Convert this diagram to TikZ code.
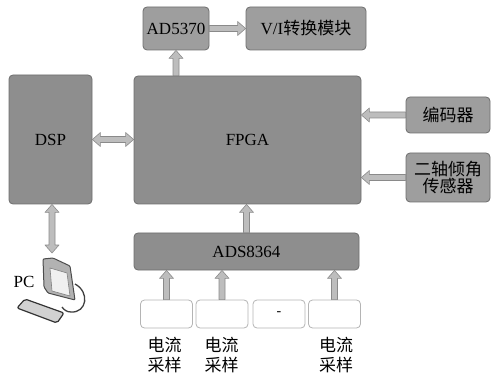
\documentclass[tikz,border=0pt]{standalone}
\usepackage{fontspec}
\setmainfont{Liberation Serif}
\newfontfamily\cjk{Noto Sans CJK SC}
\usetikzlibrary{calc}
\definecolor{boxfill}{HTML}{9E9E9E}
\definecolor{bigfill}{HTML}{8E8E8E}
\definecolor{boxline}{HTML}{6E6E6E}
\definecolor{arrfill}{HTML}{BDBDBD}
\definecolor{arrline}{HTML}{8A8A8A}
\definecolor{smline}{HTML}{B4B4B4}
\newcommand\fatarrow[3]{%
  \path let \p1=#2, \p2=#3, \n1={atan2(\y2-\y1,\x2-\x1)}, \n2={veclen(\x2-\x1,\y2-\y1)} in
    \pgfextra{\xdef\faang{\n1}\xdef\falen{\n2}\xdef\fax{\x1}\xdef\fay{\y1}};
  \begin{scope}[shift={(\fax,\fay)}, rotate=\faang]
    \ifnum#1=2
      \draw[fatarr] (0pt,0pt) -- (8pt,-7pt) -- (8pt,-3pt) -- (\falen-8pt,-3pt) -- (\falen-8pt,-7pt)
        -- (\falen,0pt) -- (\falen-8pt,7pt) -- (\falen-8pt,3pt) -- (8pt,3pt) -- (8pt,7pt) -- cycle;
    \else
      \draw[fatarr] (0pt,-3pt) -- (\falen-8pt,-3pt) -- (\falen-8pt,-7pt)
        -- (\falen,0pt) -- (\falen-8pt,7pt) -- (\falen-8pt,3pt) -- (0pt,3pt) -- cycle;
    \fi
  \end{scope}}
\begin{document}
\begin{tikzpicture}[x=1pt,y=-1pt,
  fatarr/.style={fill=arrfill, draw=arrline, line width=0.6pt, line join=round},
  blk/.style={draw=boxline, fill=boxfill, rounded corners=4pt, line width=0.8pt, inner sep=0pt,
    font=\fontsize{17}{19}\selectfont, align=center},
  bigblk/.style={blk, fill=bigfill},
  smp/.style={draw=smline, fill=white, rounded corners=4pt, line width=0.8pt, inner sep=0pt,
    minimum width=52pt, minimum height=28pt, font=\fontsize{14}{16}\selectfont},
  lbl/.style={inner sep=0pt, align=center, font=\fontsize{17}{20}\selectfont\cjk}]
\useasboundingbox (0,0) rectangle (492,379);
% blocks
\node[blk, minimum width=66pt, minimum height=43pt] (ad) at (176,28.5) {AD5370};
\node[blk, minimum width=120pt, minimum height=43pt] (vi) at (306,28.5) {V/I{\cjk 转换模块}};
\node[bigblk, minimum width=83pt, minimum height=129pt] (dsp) at (50.5,139.5) {DSP};
\node[bigblk, minimum width=227pt, minimum height=128pt] (fpga) at (247.5,140) {FPGA};
\node[blk, minimum width=84pt, minimum height=36pt] (enc) at (448,115) {\cjk 编码器};
\node[blk, minimum width=84pt, minimum height=49pt] (sen) at (448,177.5) {\cjk 二轴倾角\\[-2pt]\cjk 传感器};
\node[bigblk, minimum width=225pt, minimum height=37pt] (ads) at (246.5,251.5) {ADS8364};
% sample boxes
\node[smp] (s1) at (166.5,314) {};
\node[smp] (s2) at (222,314) {};
\node[smp] (s3) at (279,314) {-};
\node[smp] (s4) at (334.5,314) {};
\node[lbl] (l1) at (164.5,355) {电流\\采样};
\node[lbl] (l2) at (221.5,355) {电流\\采样};
\node[lbl] (l4) at (336,355) {电流\\采样};
% PC icon
\coordinate (pctop) at (52,253);
\node[inner sep=0pt, font=\fontsize{17}{19}\selectfont] (pc) at (24,282) {PC};
\begin{scope}[line join=round]
  % stand
  \draw[line width=1.3pt, draw=black!75] (75,284) .. controls (90,292) and (87,313) .. (71,312)
     .. controls (67,312) and (64,310) .. (62,307);
  % monitor body
  \draw[fill=black!30, draw=black!70, line width=1pt, rounded corners=1pt]
     (43,259) -- (53,258) -- (70,266) -- (75,300) -- (48,293) -- (44,287) -- cycle;
  \draw[fill=black!6, draw=black!50, line width=0.6pt]
     (50,268) -- (67,273) -- (70,296) -- (52,291) -- cycle;
  % keyboard
  \draw[fill=black!18, draw=black!80, line width=1.2pt, rounded corners=2pt]
     (25,299) -- (64,313) -- (57,323) -- (17,308) -- cycle;
\end{scope}
% connectors
\fatarrow{1}{(ad.east)}{(vi.west)}
\fatarrow{1}{(ad.south |- fpga.north)}{(ad.south)}
\fatarrow{2}{(dsp.east)}{(fpga.west |- dsp.east)}
\fatarrow{1}{(enc.west)}{(fpga.east |- enc.west)}
\fatarrow{1}{(sen.west)}{(fpga.east |- sen.west)}
\fatarrow{1}{(ads.north)}{(ads.north |- fpga.south)}
\fatarrow{1}{(s1.north)}{(s1.north |- ads.south)}
\fatarrow{1}{(s2.north)}{(s2.north |- ads.south)}
\fatarrow{1}{(s4.north)}{(s4.north |- ads.south)}
\fatarrow{2}{(dsp.south -| pctop)}{(pctop)}
\end{tikzpicture}
\end{document}
